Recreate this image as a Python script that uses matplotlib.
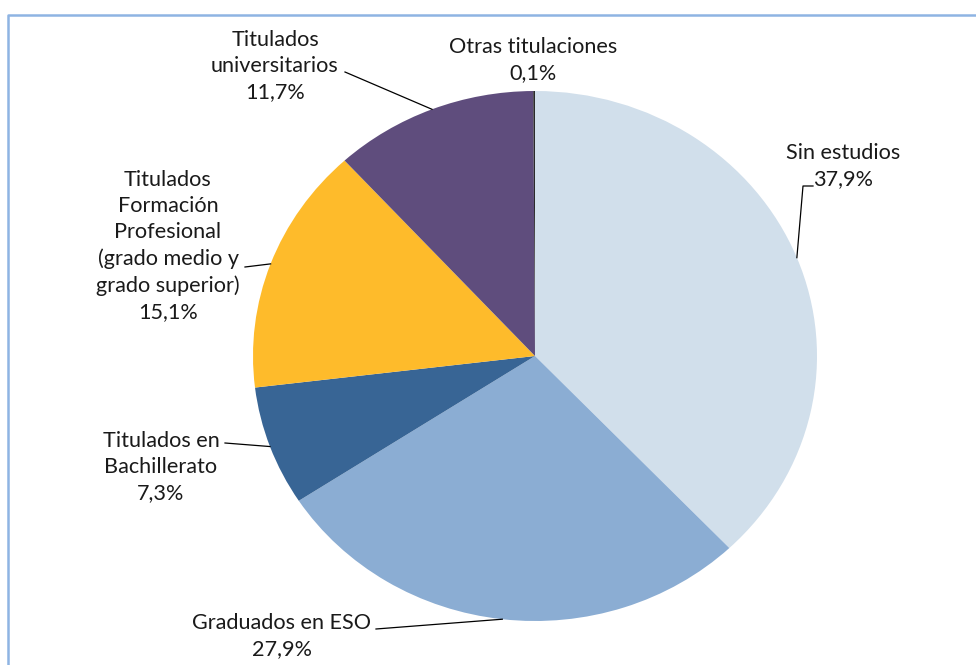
import matplotlib
matplotlib.use("Agg")
import matplotlib.pyplot as plt
import numpy as np

# datos del grafico
categorias = ["Sin estudios", "Graduados en ESO", "Titulados en\nBachillerato",
              "Titulados\nFormación\nProfesional\n(grado medio y\ngrado superior)",
              "Titulados\nuniversitarios", "Otras titulaciones"]
porcentajes = [37.9, 27.9, 7.3, 15.1, 11.7, 0.1]
colores = ["#D1DFEB", "#8BADD3", "#386595", "#FEBB2B", "#5F4D7D", "#2B2B2B"]

# posicion de las etiquetas (pixeles de la figura, desde arriba) y remate del guion
pos_etiqueta = [(843, 166), (282, 636), (161, 467), (168, 246), (275, 66), (533, 60)]
fin_guion = [(813, 186), (376, 629), (225, 443), (245, 267), (345, 72), None]

W, H = 976, 665
CX, CY, RX, RY = 535, 356, 282, 265


def px2d(px, py):
    return (px - CX) / RX, (CY - py) / RY


plt.rcParams["font.family"] = ["Lato", "DejaVu Sans"]

fig = plt.figure(figsize=(W / 100, H / 100), dpi=100)
ax = fig.add_axes([0, 0, 1, 1])

wedges, _ = ax.pie(porcentajes, colors=colores, startangle=90, counterclock=False,
                   wedgeprops=dict(linewidth=0))
ax.set_aspect("auto")
ax.set_xlim(-CX / RX, (W - CX) / RX)
ax.set_ylim(-(H - CY) / RY, CY / RY)
ax.axis("off")

# etiquetas y guias
for w, cat, pct, pos, fin in zip(wedges, categorias, porcentajes, pos_etiqueta, fin_guion):
    ang = np.deg2rad((w.theta1 + w.theta2) / 2)
    borde = (np.cos(ang), np.sin(ang))
    tx, ty = px2d(*pos)
    texto = cat + "\n" + f"{pct:.1f}%".replace(".", ",")
    ax.text(tx, ty, texto, ha="center", va="center", fontsize=15.6,
            linespacing=1.38, color="#1a1a1a")
    if fin is not None:
        fx, fy = px2d(*fin)
        if cat == "Sin estudios":
            # pequeño tramo horizontal antes del texto
            cx, cy = px2d(fin[0] - 10, fin[1])
            ax.plot([borde[0], cx, fx], [borde[1], cy, fy], color="black", lw=0.9)
        else:
            ax.plot([borde[0], fx], [borde[1], fy], color="black", lw=0.9)

# marco azul claro
marco = plt.Line2D([8 / W, 8 / W, 1], [0, 1 - 15 / H, 1 - 15 / H],
                   transform=fig.transFigure, color="#8EB4E3", lw=1.8)
fig.add_artist(marco)

fig.savefig("out.png", dpi=100)
